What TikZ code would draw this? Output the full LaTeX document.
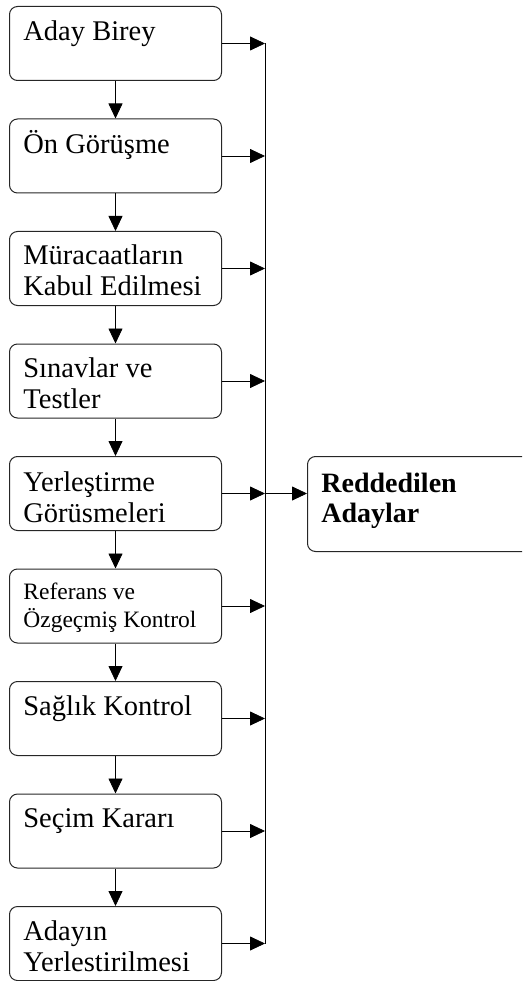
\documentclass[tikz,border=0pt]{standalone}
\usepackage{fontspec}
\setmainfont{Liberation Serif}
\usetikzlibrary{arrows.meta}

\tikzset{
  stage/.style={draw=black!85, line width=1pt, rounded corners=8pt,
    minimum width=212pt, minimum height=74pt, inner sep=0pt, anchor=north west},
  stagetext/.style={anchor=base west, inner sep=0pt, text width=196pt,
    align=flush left, font=\fontsize{28.5}{31}\selectfont},
}

\begin{document}
\begin{tikzpicture}[x=1pt,y=-1pt,>={Triangle[length=15pt,width=14pt]},line width=0.8pt]
    \useasboundingbox (0,0) rectangle (522,981);
    \clip (0,0) rectangle (522,981);
    % stages
    \foreach \i in {0,...,8}
      \node[stage] (b\i) at (9,{6+112.5*\i}) {};
    % base is the first line of the text
    \node[stagetext] (t0) at ([xshift=14pt,yshift=-35pt]b0.north west)
      {Aday Birey};
    \node[stagetext] (t1) at ([xshift=14pt,yshift=-35pt]b1.north west)
      {Ön Görüşme};
    \node[stagetext] (t2) at ([xshift=14pt,yshift=-34pt]b2.north west)
      {Müracaatların\\Kabul Edilmesi};
    \node[stagetext] (t3) at ([xshift=14pt,yshift=-34pt]b3.north west)
      {Sınavlar ve\\Testler};
    \node[stagetext] (t4) at ([xshift=14pt,yshift=-35pt]b4.north west)
      {Yerleştirme\\Görüsmeleri};
    \node[stagetext,font=\fontsize{23.5}{28}\selectfont] (t5)
      at ([xshift=14pt,yshift=-30.5pt]b5.north west)
      {Referans ve\\Özgeçmiş Kontrol};
    \node[stagetext] (t6) at ([xshift=14pt,yshift=-34pt]b6.north west)
      {Sağlık Kontrol};
    \node[stagetext] (t7) at ([xshift=14pt,yshift=-34pt]b7.north west)
      {Seçim Kararı};
    \node[stagetext] (t8) at ([xshift=14pt,yshift=-34pt]b8.north west)
      {Adayın\\Yerlestirilmesi};
    % rejected candidates
    \node[stage,minimum width=260pt,minimum height=95pt] (rej) at (307,456) {};
    \node[stagetext,font=\fontsize{28}{30}\selectfont\bfseries] (trej)
      at ([xshift=14pt,yshift=-36pt]rej.north west)
      {Reddedilen\\Adaylar};
    % connectors
    \foreach \i [count=\j from 1] in {0,...,7}
      \draw[->] (b\i.south) -- (b\j.north);
    \coordinate (bartop) at ([xshift=43pt]b0.east);
    \coordinate (barbot) at ([xshift=43pt]b8.east);
    \draw (bartop) -- (barbot);
    \foreach \i in {0,...,8}
      \draw[->] (b\i.east) -- (b\i.east -| bartop);
    \draw[->] (b4.east -| bartop) -- (b4.east -| rej.west);
  \end{tikzpicture}
\end{document}
